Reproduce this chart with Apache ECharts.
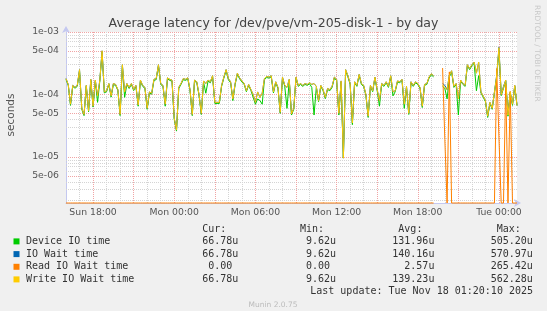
<!DOCTYPE html>
<html><head><meta charset="utf-8">
<script src="https://cdn.jsdelivr.net/npm/echarts@6/dist/echarts.min.js"></script>
<style>html,body{margin:0;padding:0;background:#F0F0F0;}#c{width:547px;height:311px;}</style>
</head><body><div id="c"></div>
<script>
// ---- data (values in microseconds, 10-minute samples from Sun 16:00) ----
const startHour = 16;          // hours since Sun 00:00
const stepMinutes = 10;
const xLabelHours = [18, 24, 30, 36, 42, 48];
const xLabels = ['Sun 18:00', 'Mon 00:00', 'Mon 06:00', 'Mon 12:00', 'Mon 18:00', 'Tue 00:00'];
const yTickValues = [1e-3, 5e-4, 1e-4, 5e-5, 1e-5, 5e-6];
const yTickLabels = ['1e-03', '5e-04', '1e-04', '5e-05', '1e-05', '5e-06'];
const yMin = 1.84e-6, yMax = 1e-3;
const N = null;

const writeIO = [
180,145,70,140,130,140,250,60,48,140,55,175,65,170,95,170,500,110,115,150,95,150,145,120,48,300,110,150,130,150,120,140,68,170,
140,130,60,110,105,175,180,300,150,140,70,185,175,170,42,27,130,150,180,175,185,120,48,170,160,100,50,165,150,170,160,200,75,75,
75,140,190,250,180,160,85,150,220,185,165,150,115,145,120,100,75,110,90,105,180,195,190,200,110,160,130,52,190,140,130,175,49,
60,190,140,150,140,150,145,155,145,150,135,80,140,120,90,125,120,135,190,175,50,165,9.62,250,200,150,35,160,140,210,150,140,100,45,
140,115,190,120,80,150,140,160,135,200,110,115,165,160,175,70,135,50,160,140,160,150,130,65,145,150,190,215,200,
N,N,N,
140,130,120,200,240,135,150,85,170,150,140,300,260,300,330,220,330,110,95,80,45,75,60,110,200,562,100,130,170,47,110,70,140,66.78
];
const deviceIO = [
174,140,67,135,126,135,240,58,46,135,53,168,63,164,75,164,480,106,111,145,91,144,140,116,46,288,90,145,125,145,116,135,65,164,
135,125,58,106,101,168,173,288,145,135,65,178,168,164,40,26,125,145,173,168,178,116,46,164,154,96,48,159,105,164,154,192,72,72,
72,135,183,240,173,154,80,145,210,178,159,145,111,140,116,90,70,85,80,70,173,187,183,192,106,154,125,50,183,135,60,168,47,
58,183,135,145,135,145,140,149,130,47,130,77,135,115,86,120,115,130,183,168,47,159,9.62,240,192,145,33,154,135,202,145,135,96,43,
135,111,183,115,65,145,135,154,130,192,95,111,159,154,168,60,130,48,154,135,154,145,125,62,140,145,183,206,192,
N,N,N,
135,125,85,192,230,130,145,47,164,145,135,288,250,288,316,115,200,106,91,77,43,72,58,106,192,505,96,125,164,45,106,67,135,66.78
];
const ioWait = [
180,145,70,140,130,140,250,60,48,140,55,175,65,170,95,170,500,110,115,150,95,150,145,120,48,300,110,150,130,150,120,140,68,170,
140,130,60,110,105,175,180,300,150,140,70,185,175,170,42,27,130,150,180,175,185,120,48,170,160,100,50,165,150,170,160,200,75,75,
75,140,190,250,180,160,85,150,220,185,165,150,115,145,120,100,75,110,90,105,180,195,190,200,110,160,130,52,190,140,130,175,49,
60,190,140,150,140,150,145,155,145,150,135,80,140,120,90,125,120,135,190,175,50,165,9.62,250,200,150,35,160,140,210,150,140,100,45,
140,115,190,120,80,150,140,160,135,200,110,115,165,160,175,70,135,50,160,140,160,150,130,65,145,150,190,215,200,
N,N,N,
150,140,120,205,240,135,150,85,170,150,140,300,260,300,330,220,330,110,95,80,45,75,60,110,205,571,100,135,170,50,110,70,140,66.78
];
const readIO = [
0,0,0,0,0,0,0,0,0,0,0,0,0,0,0,0,0,0,0,0,0,0,0,0,0,0,0,0,0,0,0,0,0,0,
0,0,0,0,0,0,0,0,0,0,0,0,0,0,0,0,0,0,0,0,0,0,0,0,0,0,0,0,0,0,0,0,0,0,
0,0,0,0,0,0,0,0,0,0,0,0,0,0,0,0,0,0,0,0,0,0,0,0,0,0,0,0,0,0,0,0,0,
0,0,0,0,0,0,0,0,0,0,0,0,0,0,0,0,0,0,0,0,0,0,0,0,0,0,0,0,0,0,0,0,0,0,
0,0,0,0,0,0,0,0,0,0,0,0,0,0,0,0,0,0,0,0,0,0,0,0,0,0,0,0,0,
N,N,N,
265,19,0,230,0,0,0,0,0,0,0,0,0,0,0,0,0,0,0,0,0,0,0,0,260,20,0,0,145,0,112,0,0,0
];

const seriesNames = ['Device IO time', 'IO Wait time', 'Read IO Wait time', 'Write IO Wait time'];
const seriesColors = ['#00CC00', '#0066B3', '#FF8000', '#FFCC00'];
const statsCur = ['66.78u', '66.78u', '0.00', '66.78u'];
const statsMin = ['9.62u', '9.62u', '0.00', '9.62u'];
const statsAvg = ['131.96u', '140.16u', '2.57u', '139.23u'];
const statsMax = ['505.20u', '570.97u', '265.42u', '562.28u'];
const lastUpdate = 'Last update: Tue Nov 18 01:20:10 2025';

// ---- helpers ----
const L = Math.log10;
const toY = v => (v === null ? '-' : L(Math.max(v * 1e-6, yMin)));
const toPts = arr => arr.map((v, i) => [startHour + i * stepMinutes / 60, toY(v)]);
const xMax = startHour + (writeIO.length - 1) * stepMinutes / 60;

const MINOR = '#D4D4D4', MAJOR = '#F0A4A4';
const minorY = [];
for (const k of [-6, -5, -4]) for (const m of [2, 3, 4, 6, 7, 8, 9]) {
  const v = m * Math.pow(10, k);
  if (v > yMin && v < yMax) minorY.push(L(v));
}
const majorX = [], minorX = [];
for (let h = 17; h <= 49; h++) (h % 3 === 0 ? majorX : minorX).push(h);

const mono = '10px "DejaVu Sans Mono"';
const graphics = [];
const rowY = [241.4, 254.1, 266.8, 279.4];
const colRight = [238.3, 336, 434.4, 532.8];
const headers = ['Cur:', 'Min:', 'Avg:', 'Max:'];
const T = (x, y, text, font, fill, align, extra) => Object.assign({ type: 'text', x, y, silent: true,
  style: { text, font, fill, align, verticalAlign: 'middle', textAlign: align, textVerticalAlign: 'middle' } }, extra || {});
headers.forEach((h, c) => graphics.push(T(colRight[c] - 12, 229, h, mono, '#333', 'right')));
seriesNames.forEach((n, r) => {
  graphics.push({ type: 'rect', shape: { x: 13.5, y: rowY[r] - 3, width: 6, height: 6 }, style: { fill: seriesColors[r] } });
  graphics.push(T(26, rowY[r], n, mono, '#333', 'left'));
  [statsCur, statsMin, statsAvg, statsMax].forEach((col, c) => {
    const s = col[r];
    graphics.push(T(colRight[c] - (/u$/.test(s) ? 0 : 6), rowY[r], s, mono, '#333', 'right'));
  });
});
graphics.push(T(533, 291.6, lastUpdate, mono, '#333', 'right'));
graphics.push(T(273, 305, 'Munin 2.0.75', '7.5px "DejaVu Sans"', '#BBBBBB', 'center'));
graphics.push(T(11, 115, 'seconds', '10.5px "DejaVu Sans"', '#555', 'center', { rotation: Math.PI / 2 }));
graphics.push(T(537, 5, 'RRDTOOL / TOBI OETIKER', '7.5px "DejaVu Sans"', '#C8C8C8', 'left', { rotation: -Math.PI / 2 }));

const lineSeries = (name, arr, color, extra) => Object.assign({
  name, type: 'line', data: toPts(arr), symbol: 'none', showSymbol: false,
  lineStyle: { color, width: 1 }, itemStyle: { color }, connectNulls: false, animation: false, z: 3
}, extra || {});

const axisLineStyle = { show: true, lineStyle: { color: '#C4C8F0', width: 1 }, symbol: ['none', 'arrow'], symbolSize: [6, 7] };
const chart = echarts.init(document.getElementById('c'), null, { renderer: 'canvas' });
chart.setOption({
  backgroundColor: '#F0F0F0',
  animation: false,
  title: { text: 'Average latency for /dev/pve/vm-205-disk-1 - by day', left: 'center', top: 12,
    textStyle: { fontSize: 12.5, fontWeight: 'normal', color: '#444', fontFamily: 'DejaVu Sans' } },
  grid: { left: 66, right: 30, top: 32, bottom: 108, show: true, backgroundColor: '#FFFFFF', borderWidth: 0, containLabel: false, outerBoundsMode: 'none' },
  xAxis: [
    { type: 'value', min: startHour, max: xMax, z: 1,
      axisLine: { show: false }, axisLabel: { show: false },
      axisTick: { show: false, customValues: minorX },
      splitLine: { show: true, lineStyle: { color: MINOR, type: [1, 1], width: 1 } } },
    { type: 'value', min: startHour, max: xMax, z: 1,
      axisLine: { show: false }, axisLabel: { show: false },
      axisTick: { show: false, customValues: majorX },
      splitLine: { show: true, lineStyle: { color: MAJOR, type: [1, 1], width: 1 } } },
    { type: 'value', min: startHour, max: xMax, position: 'bottom',
      axisLine: Object.assign({ symbolOffset: [0, 4] }, axisLineStyle),
      axisTick: { show: false }, splitLine: { show: false },
      axisLabel: { customValues: xLabelHours, formatter: v => xLabels[xLabelHours.indexOf(Math.round(v))] || '',
        fontSize: 9.3, color: '#555', fontFamily: 'DejaVu Sans', margin: 5 } }
  ],
  yAxis: [
    { type: 'value', min: L(yMin), max: L(yMax), z: 1,
      axisLine: { show: false }, axisLabel: { show: false },
      axisTick: { show: false, customValues: minorY },
      splitLine: { show: true, lineStyle: { color: MINOR, type: [1, 1], width: 1 } } },
    { type: 'value', min: L(yMin), max: L(yMax), position: 'left',
      axisLine: Object.assign({ symbolOffset: [0, 6] }, axisLineStyle),
      axisTick: { show: false, customValues: yTickValues.map(L) },
      splitLine: { show: true, lineStyle: { color: MAJOR, type: [1, 1], width: 1 } },
      axisLabel: { customValues: yTickValues.map(L), formatter: v => {
          let best = 0; yTickValues.forEach((t, i) => { if (Math.abs(L(t) - v) < Math.abs(L(yTickValues[best]) - v)) best = i; });
          return yTickLabels[best]; },
        fontSize: 9.3, color: '#555', fontFamily: 'DejaVu Sans', margin: 7 } }
  ],
  graphic: graphics,
  series: [
    lineSeries(seriesNames[0], deviceIO, seriesColors[0]),
    lineSeries(seriesNames[1], ioWait, seriesColors[1]),
    lineSeries(seriesNames[2], readIO, seriesColors[2], { clip: false }),
    lineSeries(seriesNames[3], writeIO, seriesColors[3])
  ].map(s => Object.assign(s, { xAxisIndex: 2, yAxisIndex: 1 }))
});
</script></body></html>
